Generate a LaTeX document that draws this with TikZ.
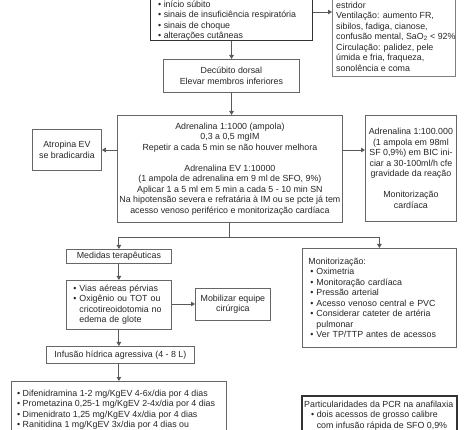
\documentclass[tikz,border=0pt]{standalone}
\usepackage{fontspec}
\setmainfont{Liberation Sans}
\usetikzlibrary{arrows.meta}
\newcommand\bl{\textbullet\ }
\newcommand\hg{\hphantom{\textbullet\ }}
\begin{document}
\begin{tikzpicture}[x=1pt,y=-1pt,
  fnt/.style={font=\fontsize{8.85}{10.5}\selectfont, text=black!85},
  box/.style={draw=black!60, line width=0.8pt, fill=white, inner sep=0pt, fnt},
  cbox/.style={box, align=center, anchor=north west},
  lbox/.style={box, align=left, anchor=north west},
  txt/.style={fnt, inner sep=0pt, align=left, anchor=north west},
  arr/.style={draw=black!65, line width=0.9pt, -{Triangle[length=4pt,width=4.5pt]}},
  ln/.style={draw=black!65, line width=0.9pt}]
\useasboundingbox (0,0) rectangle (474,430);
\fill[white] (0,0) rectangle (474,430);
\clip (0,0) rectangle (474,430);

% top left box (cut off above)
\node[box, draw=black!80, line width=1.1pt, minimum width=162, minimum height=70, anchor=south west] (A) at (150,41) {};
\node[txt] (At) at (158,-0.05) {\strut\bl início súbito\\\bl sinais de insuficiência respiratória\\\bl sinais de choque\\\bl alterações cutâneas};

% top right box (cut off above)
\node[box, draw=black!50, minimum width=123, minimum height=100, anchor=south west] (B) at (332,77) {};
\node[txt] (Bt) at (336,0.65) {\strut estridor\\Ventilação: aumento FR,\\sibilos, fadiga, cianose,\\confusão mental, SaO\textsubscript{2} < 92\%\\Circulação: palidez, pele\\úmida e fria, fraqueza,\\sonolência e coma};

\node[cbox, minimum width=136, minimum height=33] (C) at (163,59) {Decúbito dorsal\\Elevar membros inferiores};

\node[cbox, minimum width=225, minimum height=107] (D) at (117,115) {Adrenalina 1:1000 (ampola)\\0,3 a 0,5 mgIM\\Repetir a cada 5 min se não houver melhora\\[10.5pt]Adrenalina EV 1:10000\\(1 ampola de adrenalina em 9 ml de SFO, 9\%)\\Aplicar 1 a 5 ml em 5 min a cada 5 - 10 min SN\\Na hipotensão severa e refratária à IM ou se pcte já tem\\acesso venoso periférico e monitorização cardíaca};

\node[cbox, minimum width=69, minimum height=41] (E) at (32,129) {Atropina EV\\se bradicardia};

\node[cbox, minimum width=91, minimum height=106] (F) at (365,115) {Adrenalina 1:100.000\\(1 ampola em 98ml\\SF 0,9\%) em BIC ini-\\ciar a 30-100ml/h cfe\\gravidade da reação\\[10.5pt]Monitorização\\cardíaca};

\node[cbox, minimum width=105, minimum height=14] (G) at (66,249) {Medidas terapêuticas};

\node[lbox, text width=91, inner xsep=7, minimum height=49] (I) at (66,280) {\bl Vias aéreas pérvias\\\bl Oxigênio ou TOT ou\\\hg cricotireoidotomia no\\\hg edema de glote};

\node[cbox, minimum width=75, minimum height=32] (J) at (195,288) {Mobilizar equipe\\cirúrgica};

\node[cbox, minimum width=148, minimum height=17] (K) at (46,346) {Infusão hídrica agressiva (4 - 8 L)};

\node[lbox, text width=142, inner xsep=6, minimum height=99] (H) at (302,248) {Monitorização:\\\hspace*{2pt}\bl Oximetria\\\hspace*{2pt}\bl Monitoração cardíaca\\\hspace*{2pt}\bl Pressão arterial\\\hspace*{2pt}\bl Acesso venoso central e PVC\\\hspace*{2pt}\bl Considerar cateter de artéria\\\hspace*{2pt}\hg pulmonar\\\hspace*{2pt}\bl Ver TP/TTP antes de acessos};

% bottom left box (cut off below)
\node[box, minimum width=215, minimum height=80, anchor=north west] (L) at (11,381) {};
\node[txt] (Lt) at (17,388.65) {\strut\bl Difenidramina 1-2 mg/KgEV 4-6x/dia por 4 dias\\\bl Prometazina 0,25-1 mg/KgEV 2-4x/dia por 4 dias\\\bl Dimenidrato 1,25 mg/KgEV 4x/dia por 4 dias\\\bl Ranitidina 1 mg/KgEV 3x/dia por 4 dias ou};

% bottom right box (cut off below)
\node[box, draw=black!80, line width=1.8pt, minimum width=155, minimum height=60, anchor=north west] (M) at (301,395) {};
\node[txt] (Mt) at (304,399.65) {\strut Particularidades da PCR na anafilaxia\\\hspace*{7pt}\bl dois acessos de grosso calibre\\\hspace*{7pt}\hg com infusão rápida de SFO 0,9\%};

% connectors
\coordinate (yab) at (0,12);
\draw[arr] (A.east |- yab) -- (B.west |- yab);
\draw[arr] (A.south) -- (A.south |- C.north);
\draw[arr] (A.south |- C.south) -- (A.south |- D.north);
\coordinate (yde) at (0,150);
\draw[arr] (D.west |- yde) -- (E.east |- yde);
\draw[arr] (D.east |- yde) -- (F.west |- yde);
\coordinate (sp) at (D.south |- 0,237);
\draw[ln] (D.south) -- (sp);
\draw[arr] (sp) -| (G.north);
\draw[arr] (sp) -| (H.north);
\draw[arr] (G.south) -- (I.north);
\coordinate (yij) at (0,304);
\draw[arr] (I.east |- yij) -- (J.west |- yij);
\draw[arr] (I.south) -- (I.south |- K.north);
\draw[arr] (I.south |- K.south) -- (I.south |- L.north);
\end{tikzpicture}
\end{document}
